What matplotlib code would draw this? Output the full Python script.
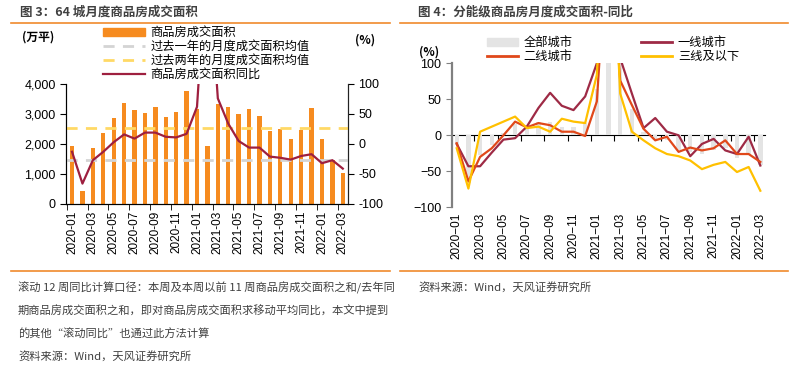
"""
64 城月度商品房成交面积 / 分能级商品房月度成交面积同比
"""

import matplotlib
matplotlib.use("Agg")
import matplotlib.pyplot as plt
from matplotlib.patches import Patch
from matplotlib.lines import Line2D
import numpy as np

plt.rcParams["font.family"] = ["Liberation Sans", "Noto Sans CJK SC"]
plt.rcParams["axes.unicode_minus"] = True

# ----------------------------------------------------------
# Data
# ----------------------------------------------------------

months = [
    "2020-01", "2020-02", "2020-03", "2020-04", "2020-05", "2020-06",
    "2020-07", "2020-08", "2020-09", "2020-10", "2020-11", "2020-12",
    "2021-01", "2021-02", "2021-03", "2021-04", "2021-05", "2021-06",
    "2021-07", "2021-08", "2021-09", "2021-10", "2021-11", "2021-12",
    "2022-01", "2022-02", "2022-03",
]

# 商品房成交面积 (万平)
area = [1930, 450, 1870, 2380, 2870, 3360, 3130, 3040, 3220, 2900, 3070, 3780,
        3180, 1940, 3330, 3230, 2990, 3180, 2940, 2430, 2490, 2160, 2470, 3190,
        2160, 1480, 1020]

mean_1y = 1480
mean_2y = 2530

# 商品房成交面积同比 (%)
area_yoy = [-13, -66, -27, -13, 3, 16, 9, 19, 19, 12, 11, 17,
            62, 330, 76, 34, 5, -6, -6, -21, -23, -26, -20, -17,
            -32, -27, -41]

# 分能级同比 (%)
all_city = [-13, -66, -27, -13, 3, 16, 9, 19, 19, 12, 11, 17,
            65, 330, 130, 37, 5, -6, -6, -21, -23, -26, -20, -17,
            -32, -27, -41]
tier1 = [-12, -43, -43, -24, -6, -4, 12, 38, 59, 41, 35, 54,
         100, 280, 107, 58, 10, 24, 5, 0, -29, -12, -5, -21,
         -26, -2, -42]
tier2 = [-11, -64, -30, -18, 0, 19, 11, 17, 14, 5, 5, -1,
         47, 300, 76, 42, 9, -7, -2, -23, -17, -21, -18, -7,
         -26, -26, -37]
tier3 = [-18, -74, 5, 12, 19, 26, 10, 12, 5, 23, 19, 17,
         84, 400, 58, 5, -7, -18, -26, -29, -35, -47, -41, -37,
         -51, -44, -77]

ORANGE = "#F68B1F"
WINE = "#9E1F3F"
GREY_DASH = "#D4D4D4"
YELLOW_DASH = "#FFD966"
T1 = "#9E2A45"
T2 = "#E0481A"
T3 = "#FFC000"
ALL = "#E4E4E4"
TEXT = "#404040"
RULE = "#F08A2C"

W, H = 809, 370
fig = plt.figure(figsize=(W / 100, H / 100), dpi=100)


def fx(px):
    return px / W


def fy(py):
    return 1 - py / H


x = np.arange(len(months))
cjk = ["Noto Sans CJK SC", "DejaVu Sans"]

# ----------------------------------------------------------
# Titles, rules, notes
# ----------------------------------------------------------

fig.text(fx(20), fy(12), "图 3：64 城月度商品房成交面积", fontsize=9,
         fontweight="bold", color=TEXT, va="center", family=cjk)
fig.text(fx(418), fy(12), "图 4：分能级商品房月度成交面积-同比", fontsize=9,
         fontweight="bold", color=TEXT, va="center", family=cjk)

for x0, x1 in [(11, 390), (400, 788)]:
    for yy in [23, 271]:
        fig.add_artist(Line2D([fx(x0), fx(x1)], [fy(yy), fy(yy)],
                              color=RULE, lw=1.2))

notes = [
    "滚动 12 周同比计算口径：本周及本周以前 11 周商品房成交面积之和/去年同",
    "期商品房成交面积之和，即对商品房成交面积求移动平均同比，本文中提到",
    "的其他“滚动同比”也通过此方法计算",
    "资料来源：Wind，天风证券研究所",
]
for i, line in enumerate(notes):
    fig.text(fx(18), fy(288 + 23 * i), line, fontsize=8.1, color=TEXT,
             va="center", family=cjk)
fig.text(fx(418), fy(288), "资料来源：Wind，天风证券研究所", fontsize=8.1,
         color=TEXT, va="center", family=cjk)

# ----------------------------------------------------------
# Left chart
# ----------------------------------------------------------

ax = fig.add_axes([fx(66), fy(204), fx(348 - 66), (204 - 84) / H])
ax.bar(x, area, width=0.42, color=ORANGE, zorder=2)
ax.axhline(mean_1y, color=GREY_DASH, lw=2, ls=(0, (4, 3)), zorder=3)
ax.axhline(mean_2y, color=YELLOW_DASH, lw=2, ls=(0, (4, 3)), zorder=3)
ax.set_xlim(-0.58, 26.5)
ax.set_ylim(0, 4000)
ax.set_yticks([0, 1000, 2000, 3000, 4000])
ax.set_yticklabels(["0", "1,000", "2,000", "3,000", "4,000"])
ax.set_xticks(x[::2])
ax.set_xticklabels(months[::2], rotation=90)
ax.set_xticks(np.arange(-0.5, 27, 2), minor=True)
ax.tick_params(axis="x", which="major", length=0, pad=5, labelsize=8.5)
ax.tick_params(axis="x", which="minor", length=4, direction="out")
ax.tick_params(axis="y", length=4, direction="out", labelsize=9)
ax.spines["top"].set_visible(False)
for s in ["left", "right", "bottom"]:
    ax.spines[s].set_color("#222222")

ax2 = ax.twinx()
ax2.plot(x, area_yoy, color=WINE, lw=1.6, zorder=4)
ax2.set_ylim(-100, 100)
ax2.set_yticks([-100, -50, 0, 50, 100])
ax2.set_yticklabels(["-100", "-50", "0", "50", "100"])
ax2.tick_params(axis="y", length=4, direction="out", labelsize=9)
ax2.spines["top"].set_visible(False)
ax2.spines["right"].set_color("#222222")

fig.text(fx(22), fy(37), "(万平)", fontsize=8.5, fontweight="bold",
         va="center", family=cjk)
fig.text(fx(355), fy(40), "(%)", fontsize=8.5, fontweight="bold",
         va="center", family=cjk)

handles = [
    Patch(color=ORANGE),
    Line2D([], [], color=GREY_DASH, lw=2, ls=(0, (4, 3))),
    Line2D([], [], color=YELLOW_DASH, lw=2, ls=(0, (4, 3))),
    Line2D([], [], color=WINE, lw=1.6),
]
labels = ["商品房成交面积", "过去一年的月度成交面积均值",
          "过去两年的月度成交面积均值", "商品房成交面积同比"]
fig.legend(handles, labels, loc="upper left",
           bbox_to_anchor=(fx(103), fy(26)), frameon=False,
           prop={"family": cjk, "size": 8.8}, handlelength=3.4,
           handleheight=0.6, handletextpad=0.5, labelspacing=0.08,
           borderpad=0, borderaxespad=0)

# ----------------------------------------------------------
# Right chart
# ----------------------------------------------------------

bx = fig.add_axes([fx(451.7), fy(207.3), fx(765 - 451.7), 144 / H])
bx.bar(x, all_city, width=0.38, color=ALL, zorder=1)
bx.plot(x, tier1, color=T1, lw=1.6, zorder=3)
bx.plot(x, tier2, color=T2, lw=1.6, zorder=3)
bx.plot(x, tier3, color=T3, lw=1.6, zorder=3)
bx.set_xlim(-0.43, 26.4)
bx.set_ylim(-100, 100)
bx.set_yticks([-100, -50, 0, 50, 100])
bx.set_yticklabels(["\u2212100", "\u221250", "0", "50", "100"])
bx.tick_params(axis="y", length=4, direction="out", labelsize=9,
               color="#808080")
bx.set_xticks(x[::2])
bx.set_xticklabels([m.replace("-", "\u2212") for m in months[::2]],
                   rotation=90)
bx.tick_params(axis="x", length=0, pad=4, labelsize=8.5)
for s in ["top", "right", "bottom"]:
    bx.spines[s].set_visible(False)
bx.spines["left"].set_color("#808080")
bx.spines["left"].set_linewidth(1.6)

# zero line with small upward ticks
zero_ticks = np.arange(1.5, 27, 2)
zero = bx.secondary_xaxis(0.5)
zero.set_xticks(zero_ticks)
zero.set_xticklabels([""] * len(zero_ticks))
zero.tick_params(axis="x", direction="in", length=4, color="black")
zero.spines["bottom"].set_color("black")
zero.spines["bottom"].set_linewidth(1.0)

fig.text(fx(419), fy(52), "(%)", fontsize=8.5, fontweight="bold",
         va="center", family=cjk)

handles = [
    Patch(color=ALL),
    Line2D([], [], color=T2, lw=2),
    Line2D([], [], color=T1, lw=2),
    Line2D([], [], color=T3, lw=2),
]
labels = ["全部城市", "二线城市", "一线城市", "三线及以下"]
fig.legend(handles, labels, loc="upper left", ncol=2,
           bbox_to_anchor=(fx(487), fy(36)), frameon=False,
           prop={"family": cjk, "size": 8.8}, handlelength=2.5,
           handleheight=0.6, handletextpad=0.5, labelspacing=0.05,
           columnspacing=5.6, borderpad=0, borderaxespad=0)

fig.savefig("out.png", dpi=100)
